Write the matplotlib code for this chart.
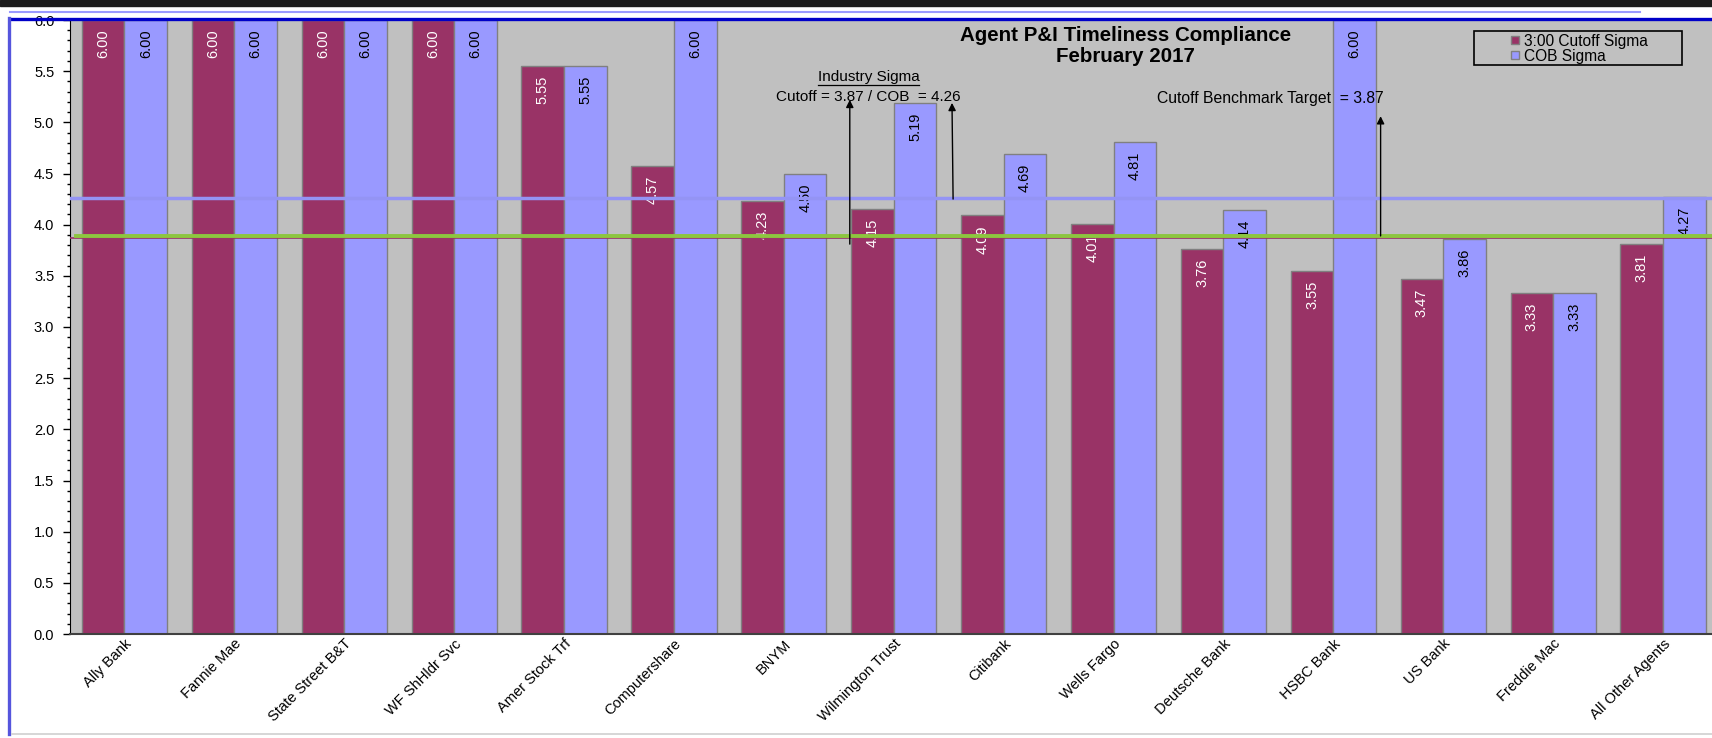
import matplotlib
matplotlib.use('Agg')
import matplotlib.pyplot as plt
import numpy as np
from matplotlib.lines import Line2D
from matplotlib.patches import Rectangle

plt.rcParams['font.family'] = ['Liberation Sans', 'DejaVu Sans']

# Data
agents = ['Ally Bank', 'Fannie Mae', 'State Street B&T', 'WF ShHldr Svc', 'Amer Stock Trf',
          'Computershare', 'BNYM', 'Wilmington Trust', 'Citibank', 'Wells Fargo',
          'Deutsche Bank', 'HSBC Bank', 'US Bank', 'Freddie Mac', 'All Other Agents']
cutoff_sigma = [6.00, 6.00, 6.00, 6.00, 5.55, 4.57, 4.23, 4.15, 4.09, 4.01,
                3.76, 3.55, 3.47, 3.33, 3.81]
cob_sigma = [6.00, 6.00, 6.00, 6.00, 5.55, 6.00, 4.50, 5.19, 4.69, 4.81,
             4.14, 6.00, 3.86, 3.33, 4.27]
industry_cutoff = 3.87
industry_cob = 4.26
benchmark_target = 3.87
yticks = np.arange(0, 6.01, 0.5)

maroon = '#993366'
lavender = '#9999FF'
plot_bg = '#C0C0C0'

W, H = 1712, 738
fig = plt.figure(figsize=(W / 100, H / 100), dpi=100)
fig.patch.set_facecolor('white')

ax = fig.add_axes([69.5 / W, (H - 634) / H, (W - 69.5) / W, 614 / H])
ax.set_facecolor(plot_bg)
ax.set_ylim(0, 6)
ax.set_xlim(-0.5, -0.5 + (W - 69.5) / 109.9)

x = np.arange(len(agents))
w = 0.388
ax.bar(x - w / 2, cutoff_sigma, w, color=maroon, edgecolor='#808080', linewidth=1, zorder=2)
ax.bar(x + w / 2, cob_sigma, w, color=lavender, edgecolor='#808080', linewidth=1, zorder=2)

# value labels inside the bar tops
for xi, v in zip(x - w / 2, cutoff_sigma):
    ax.annotate(f'{v:.2f}', (xi, v), xytext=(0, -7), textcoords='offset points',
                rotation=90, ha='center', va='top', color='white', fontsize=10.5, zorder=3)
for xi, v in zip(x + w / 2, cob_sigma):
    ax.annotate(f'{v:.2f}', (xi, v), xytext=(0, -7), textcoords='offset points',
                rotation=90, ha='center', va='top', color='black', fontsize=10.5, zorder=3)

# reference lines
ax.axhline(industry_cob, color='#9494F4', lw=2.5, zorder=4)
ax.axhline(benchmark_target, color=maroon, lw=1.2, zorder=4)
ax.axhline(industry_cutoff + 0.02, xmin=0.004, color='#8DC63F', lw=2.8, zorder=5)

# annotations
arrow = dict(arrowstyle='-|>', color='black', lw=1, mutation_scale=11, shrinkA=0, shrinkB=0)
ax.annotate('', xy=(6.60, 5.22), xytext=(6.60, 3.81), arrowprops=arrow, zorder=6)
ax.annotate('', xy=(7.53, 5.19), xytext=(7.54, 4.25), arrowprops=arrow, zorder=6)
ax.annotate('', xy=(11.43, 5.06), xytext=(11.43, 3.89), arrowprops=arrow, zorder=6)

t_ind = ax.text(6.77, 5.44, 'Industry Sigma', ha='center', va='center', fontsize=11, zorder=6)
ax.text(6.77, 5.25, f'Cutoff = {industry_cutoff:.2f} / COB  = {industry_cob:.2f}',
        ha='center', va='center', fontsize=11, zorder=6)
ax.text(10.43, 5.23, f'Cutoff Benchmark Target  = {benchmark_target:.2f}',
        ha='center', va='center', fontsize=11.3, zorder=6)

ax.text(0.643, 0.99, 'Agent P&I Timeliness Compliance\nFebruary 2017', transform=ax.transAxes,
        ha='center', va='top', fontsize=14.8, fontweight='bold', linespacing=1.1, zorder=6)

# axes styling
ax.set_yticks(yticks)
ax.set_yticklabels([f'{t:.1f}' for t in yticks], fontsize=10.5)
ax.yaxis.set_minor_locator(matplotlib.ticker.MultipleLocator(0.1))
ax.tick_params(axis='y', which='major', direction='out', length=5, width=1, pad=6)
ax.tick_params(axis='y', which='minor', direction='out', length=2.5, width=1)
ax.set_xticks(x)
ax.set_xticklabels(agents, rotation=45, ha='right', rotation_mode='anchor', fontsize=10.5)
ax.tick_params(axis='x', length=0, pad=2)
for s in ['top', 'right']:
    ax.spines[s].set_visible(False)
ax.spines['left'].set_color('black')
ax.spines['bottom'].set_color('#404040')
ax.spines['bottom'].set_linewidth(1.5)

# legend
handles = [Line2D([], [], marker='s', ls='', markersize=6, markerfacecolor=maroon, markeredgecolor='#808080'),
           Line2D([], [], marker='s', ls='', markersize=6, markerfacecolor=lavender, markeredgecolor='#808080')]
fig.legend(handles, ['3:00 Cutoff Sigma', 'COB Sigma'], loc='upper left',
           bbox_to_anchor=(1503 / W, (H - 26) / H), frameon=False, fontsize=11.2,
           handlelength=0.6, handletextpad=0.25, borderpad=0, labelspacing=0.0)
fig.add_artist(Rectangle((1474 / W, (H - 65) / H), 208 / W, 34 / H, transform=fig.transFigure,
                         fill=False, edgecolor='black', lw=1.2, zorder=7))

# underline for "Industry Sigma"
fig.canvas.draw()
bb = t_ind.get_window_extent()
fig.add_artist(Line2D([bb.x0 / W, bb.x1 / W], [(bb.y0 - 1) / H, (bb.y0 - 1) / H],
                      transform=fig.transFigure, color='black', lw=0.9))

# window frame decoration
fig.add_artist(Rectangle((0, (H - 6) / H), 1, 6 / H, transform=fig.transFigure,
                         color='#1c1c1c', zorder=8))
fig.add_artist(Line2D([10 / W, 1640 / W], [(H - 12) / H] * 2, transform=fig.transFigure,
                      color='#9999FF', lw=1.5, zorder=8))
fig.add_artist(Line2D([10 / W, 1], [(H - 18.5) / H] * 2, transform=fig.transFigure,
                      color='#0000C8', lw=2.4, zorder=8))
fig.add_artist(Line2D([9 / W, 9 / W], [0.005, (H - 18) / H], transform=fig.transFigure,
                      color='#5555DD', lw=2.4, zorder=8))
fig.add_artist(Line2D([12 / W, 1], [4 / H, 4 / H], transform=fig.transFigure,
                      color='#d0d0d0', lw=1.2, zorder=8))

fig.savefig('out.png', dpi=100)
